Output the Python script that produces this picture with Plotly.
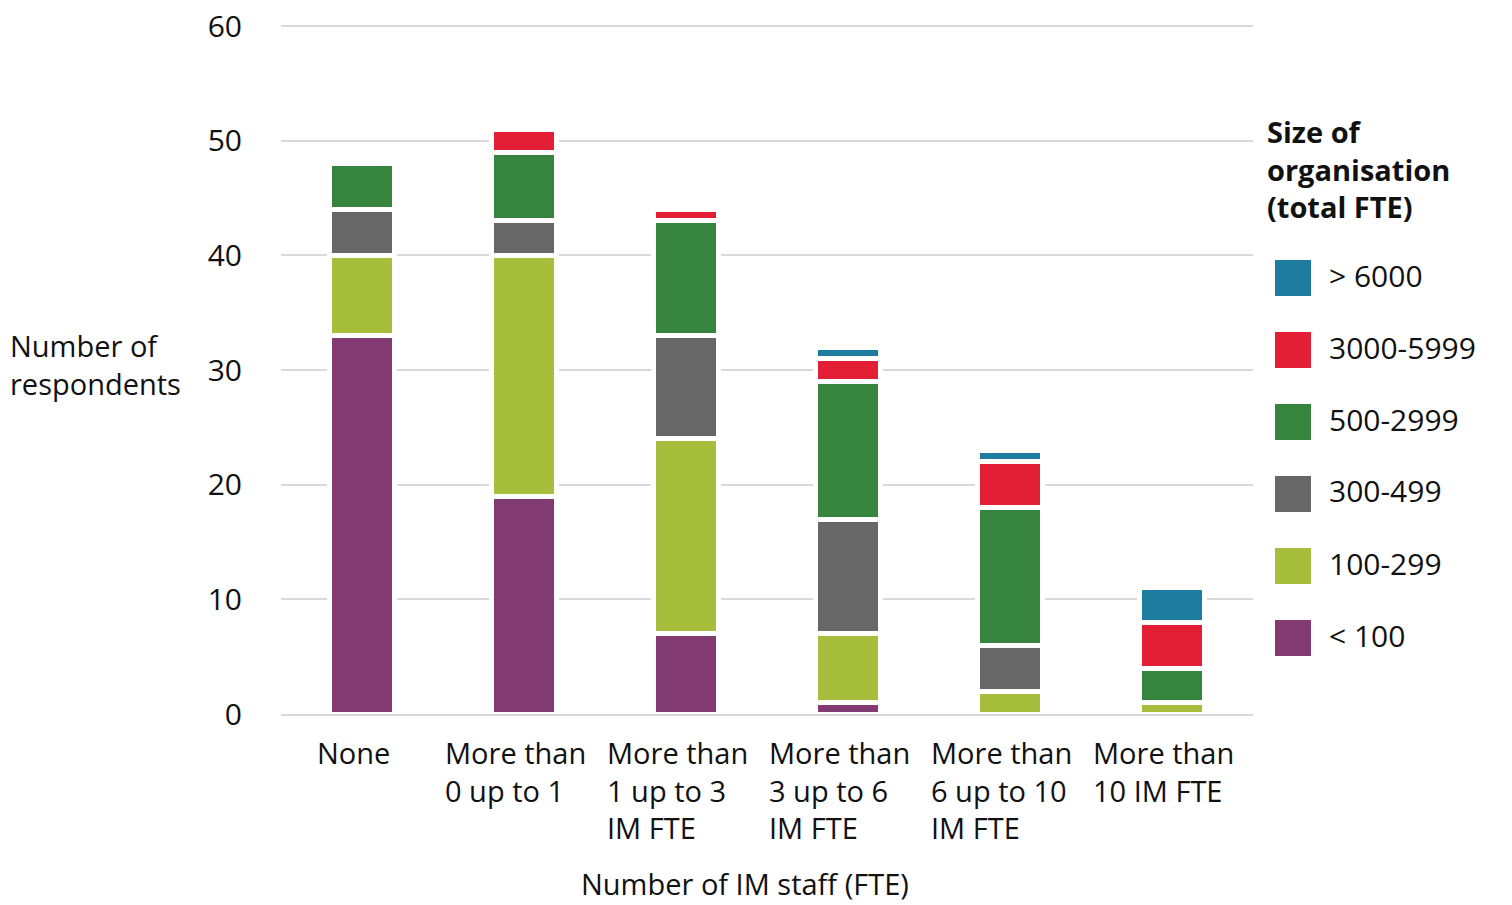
import plotly.graph_objects as go

# Categories along the x axis (number of IM staff)
categories = [
    "None",
    "More than<br>0 up to 1",
    "More than<br>1 up to 3<br>IM FTE",
    "More than<br>3 up to 6<br>IM FTE",
    "More than<br>6 up to 10<br>IM FTE",
    "More than<br>10 IM FTE",
]

# Organisation size groups, bottom of the stack first
size_groups = ["< 100", "100-299", "300-499", "500-2999", "3000-5999", "> 6000"]

# Respondent counts per size group
under_100 = [33, 19, 7, 1, 0, 0]
from_100_to_299 = [7, 21, 17, 6, 2, 1]
from_300_to_499 = [4, 3, 9, 10, 4, 0]
from_500_to_2999 = [4, 6, 10, 12, 12, 3]
from_3000_to_5999 = [0, 2, 1, 2, 4, 4]
over_6000 = [0, 0, 0, 1, 1, 3]

series = [under_100, from_100_to_299, from_300_to_499,
          from_500_to_2999, from_3000_to_5999, over_6000]
colors = ["#823A72", "#A6BE3B", "#666766", "#37843F", "#E31F36", "#1F7CA1"]

y_ticks = [0, 10, 20, 30, 40, 50, 60]

FONT = "Open Sans, Lato, sans-serif"
TEXT = "#111111"
FS = 29      # labels and titles
FS_NUM = 30  # tick numbers and legend entries

W, H = 1512, 905
L, R, T, B = 281, 259, 24, 191
PW, PH = W - L - R, H - T - B
Y_TOP = 60.175  # a little headroom so the 60 gridline is drawn


def px_x(px):
    return (px - L) / PW


def px_y(py):
    return (H - B - py) / PH


fig = go.Figure()
for name, vals, col in zip(size_groups, series, colors):
    fig.add_trace(go.Bar(
        x=categories, y=vals, name=name,
        marker=dict(color=col, line=dict(color="white", width=5)),
        showlegend=False,
    ))

annotations = []
# Category labels, left-aligned blocks under each bar
for cat in categories:
    annotations.append(dict(
        x=cat, xref="x", y=px_y(731), yref="paper",
        text=cat, showarrow=False, xanchor="center", yanchor="top",
        align="left", xshift=-9,
        font=dict(family=FONT, size=FS, color=TEXT),
    ))

# Axis titles
annotations.append(dict(
    x=px_x(8), xref="paper", y=px_y(364), yref="paper",
    text="Number of<br>respondents", showarrow=False,
    xanchor="left", yanchor="middle", align="left",
    font=dict(family=FONT, size=FS, color=TEXT),
))
annotations.append(dict(
    x=px_x(745), xref="paper", y=px_y(883), yref="paper",
    text="Number of IM staff (FTE)", showarrow=False,
    xanchor="center", yanchor="middle",
    font=dict(family=FONT, size=FS, color=TEXT),
))

# Legend title
annotations.append(dict(
    x=px_x(1265), xref="paper", y=px_y(110), yref="paper",
    text="<b>Size of<br>organisation<br>(total FTE)</b>", showarrow=False,
    xanchor="left", yanchor="top", align="left",
    font=dict(family=FONT, size=FS, color=TEXT),
))

# Legend entries, largest group on top
shapes = []
for i, (name, col) in enumerate(zip(reversed(size_groups), reversed(colors))):
    top = 260 + i * 72
    shapes.append(dict(
        type="rect", xref="paper", yref="paper",
        x0=px_x(1275), x1=px_x(1311), y0=px_y(top + 36), y1=px_y(top),
        fillcolor=col, line=dict(width=0),
    ))
    annotations.append(dict(
        x=px_x(1327), xref="paper", y=px_y(top + 15), yref="paper",
        text=name, showarrow=False, xanchor="left", yanchor="middle",
        font=dict(family=FONT, size=FS_NUM, color=TEXT),
    ))

fig.update_layout(
    width=W, height=H,
    margin=dict(l=L, r=R, t=T, b=B),
    barmode="stack",
    bargap=0.593,
    plot_bgcolor="white",
    paper_bgcolor="white",
    font=dict(family=FONT, size=FS, color=TEXT),
    annotations=annotations,
    shapes=shapes,
    xaxis=dict(
        showticklabels=False, showgrid=False, zeroline=False,
        showline=True, linecolor="#D9D9D9", linewidth=2,
        layer="above traces", ticks="", automargin=False,
    ),
    yaxis=dict(
        range=[0, Y_TOP], tickvals=y_ticks, ticktext=[str(v) for v in y_ticks],
        showgrid=True, gridcolor="#D9D9D9", gridwidth=2,
        zeroline=False, showline=False, ticks="", automargin=False,
        ticklabelstandoff=38,
        tickfont=dict(family=FONT, size=FS_NUM, color=TEXT),
    ),
)

fig.write_html("out.html")
